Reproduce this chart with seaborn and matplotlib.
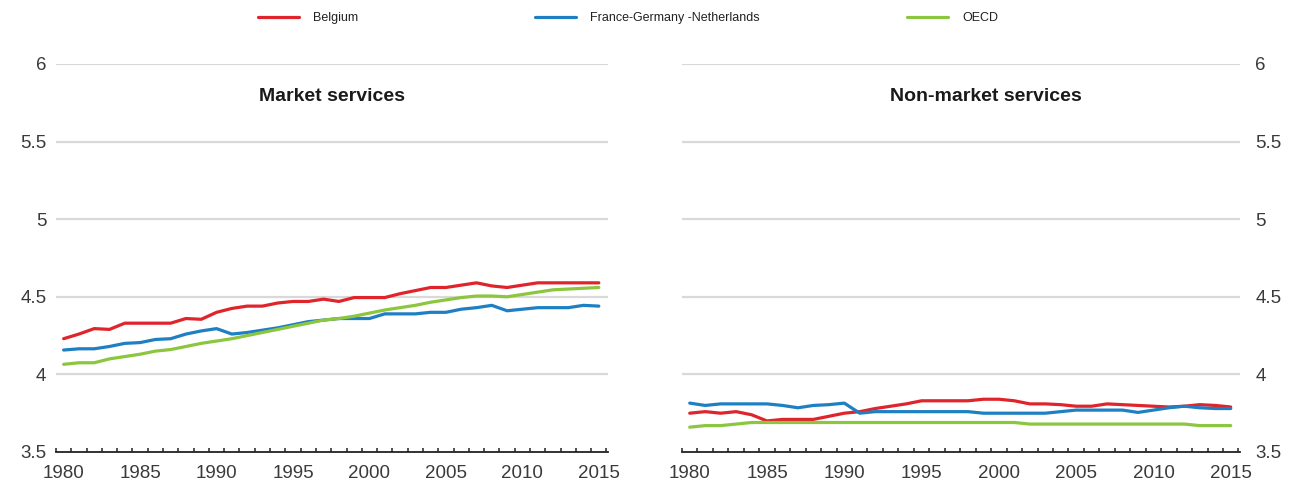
import numpy as np
import pandas as pd
import matplotlib
matplotlib.use("Agg")
import matplotlib.pyplot as plt
from matplotlib.lines import Line2D
from matplotlib.ticker import FixedLocator
import seaborn as sns

years = list(range(1980, 2016))
series_names = ["Belgium", "France-Germany -Netherlands", "OECD"]

# Market services
market_belgium = [4.23, 4.26, 4.295, 4.29, 4.33, 4.33, 4.33, 4.33, 4.36, 4.355,
                  4.40, 4.425, 4.44, 4.44, 4.46, 4.47, 4.47, 4.485, 4.47, 4.495,
                  4.495, 4.495, 4.52, 4.54, 4.56, 4.56, 4.575, 4.59, 4.57, 4.56,
                  4.575, 4.59, 4.59, 4.59, 4.59, 4.59]
market_fgn = [4.157, 4.165, 4.165, 4.18, 4.20, 4.205, 4.225, 4.23, 4.26, 4.28,
              4.295, 4.26, 4.27, 4.285, 4.30, 4.32, 4.34, 4.35, 4.36, 4.36,
              4.36, 4.39, 4.39, 4.39, 4.40, 4.40, 4.42, 4.43, 4.445, 4.41,
              4.42, 4.43, 4.43, 4.43, 4.445, 4.44]
market_oecd = [4.065, 4.075, 4.075, 4.10, 4.115, 4.13, 4.15, 4.16, 4.18, 4.20,
               4.215, 4.23, 4.25, 4.27, 4.29, 4.31, 4.33, 4.35, 4.36, 4.375,
               4.395, 4.415, 4.43, 4.445, 4.465, 4.48, 4.495, 4.505, 4.505, 4.50,
               4.515, 4.53, 4.545, 4.55, 4.555, 4.56]

# Non-market services
nonmarket_belgium = [3.75, 3.76, 3.75, 3.76, 3.74, 3.70, 3.71, 3.71, 3.71, 3.73,
                     3.75, 3.76, 3.78, 3.795, 3.81, 3.83, 3.83, 3.83, 3.83, 3.84,
                     3.84, 3.83, 3.81, 3.81, 3.805, 3.795, 3.795, 3.81, 3.805, 3.80,
                     3.795, 3.79, 3.795, 3.805, 3.80, 3.79]
nonmarket_fgn = [3.815, 3.80, 3.81, 3.81, 3.81, 3.81, 3.80, 3.785, 3.80, 3.805,
                 3.815, 3.75, 3.76, 3.76, 3.76, 3.76, 3.76, 3.76, 3.76, 3.75,
                 3.75, 3.75, 3.75, 3.75, 3.76, 3.77, 3.77, 3.77, 3.77, 3.755,
                 3.77, 3.785, 3.795, 3.785, 3.78, 3.78]
nonmarket_oecd = [3.66, 3.67, 3.67, 3.68, 3.69, 3.69, 3.69, 3.69, 3.69, 3.69,
                  3.69, 3.69, 3.69, 3.69, 3.69, 3.69, 3.69, 3.69, 3.69, 3.69,
                  3.69, 3.69, 3.68, 3.68, 3.68, 3.68, 3.68, 3.68, 3.68, 3.68,
                  3.68, 3.68, 3.68, 3.67, 3.67, 3.67]

panel_titles = ["Market services", "Non-market services"]
y_ticks = [3.5, 4, 4.5, 5, 5.5, 6]
y_tick_labels = ["3.5", "4", "4.5", "5", "5.5", "6"]
x_tick_years = [1980, 1985, 1990, 1995, 2000, 2005, 2010, 2015]

colors = {"Belgium": "#E0242C",
          "France-Germany -Netherlands": "#1E7FC3",
          "OECD": "#8CC63F"}


def long_frame(belgium, fgn, oecd):
    parts = []
    for name, vals in zip(series_names, [belgium, fgn, oecd]):
        parts.append(pd.DataFrame({"year": years, "value": vals, "series": name}))
    return pd.concat(parts, ignore_index=True)


market_df = long_frame(market_belgium, market_fgn, market_oecd)
nonmarket_df = long_frame(nonmarket_belgium, nonmarket_fgn, nonmarket_oecd)

sns.set_theme(style="white")
plt.rcParams["font.family"] = ["Liberation Sans", "DejaVu Sans"]

W, H = 1294, 484
fig = plt.figure(figsize=(W / 100, H / 100), dpi=100)
ax_l = fig.add_axes([56 / W, (H - 452) / H, (608 - 56) / W, (452 - 64) / H])
ax_r = fig.add_axes([682 / W, (H - 452) / H, (1240 - 682) / W, (452 - 64) / H])

tick_color = "#3a3a3a"
line_w = 2.3

for ax, df, title, tx in [(ax_l, market_df, panel_titles[0], 0.50),
                          (ax_r, nonmarket_df, panel_titles[1], 0.545)]:
    for y in y_ticks[1:]:
        ax.axhline(y, color="#d9d9d9", lw=1.6, zorder=0)
    sns.lineplot(data=df, x="year", y="value", hue="series",
                 hue_order=series_names, palette=colors, lw=line_w,
                 legend=False, ax=ax, zorder=3)
    ax.set_xlim(1979.5, 2015.6)
    ax.set_ylim(3.5, 6)
    ax.set_xlabel("")
    ax.set_ylabel("")
    for s in ["top", "left", "right"]:
        ax.spines[s].set_visible(False)
    ax.spines["bottom"].set_color("#222222")
    ax.spines["bottom"].set_linewidth(1.3)
    ax.set_yticks(y_ticks)
    ax.set_yticklabels(y_tick_labels)
    ax.set_xticks(x_tick_years)
    ax.set_xticklabels([str(v) for v in x_tick_years])
    ax.xaxis.set_minor_locator(FixedLocator(np.arange(1979.5, 2016, 1.0)))
    ax.tick_params(axis="x", which="major", bottom=True, length=0, pad=9,
                   labelsize=13.5, labelcolor=tick_color)
    ax.tick_params(axis="x", which="minor", bottom=True, direction="in",
                   length=3.2, width=1.1, color="#222222")
    ax.tick_params(axis="y", length=0, labelsize=13.5, labelcolor=tick_color)
    ax.text(tx, 0.915, title, transform=ax.transAxes, ha="center", va="center",
            fontsize=14, fontweight="bold", color="#1a1a1a")
    ax.set_facecolor("none")

ax_l.tick_params(axis="y", pad=7)
ax_r.yaxis.tick_right()
ax_r.tick_params(axis="y", pad=11)

# One legend entry per series, spread across the top of the figure
legend_left_px = [258, 535, 907]
for name, left in zip(series_names, legend_left_px):
    h = Line2D([0], [0], color=colors[name], lw=line_w)
    fig.legend([h], [name], loc="center left",
               bbox_to_anchor=(left / W, 1 - 18 / H), frameon=False,
               fontsize=9, handlelength=3.3, handletextpad=1.1,
               borderpad=0, borderaxespad=0, labelcolor="#222222")

fig.savefig("out.png", dpi=100, facecolor="white")
